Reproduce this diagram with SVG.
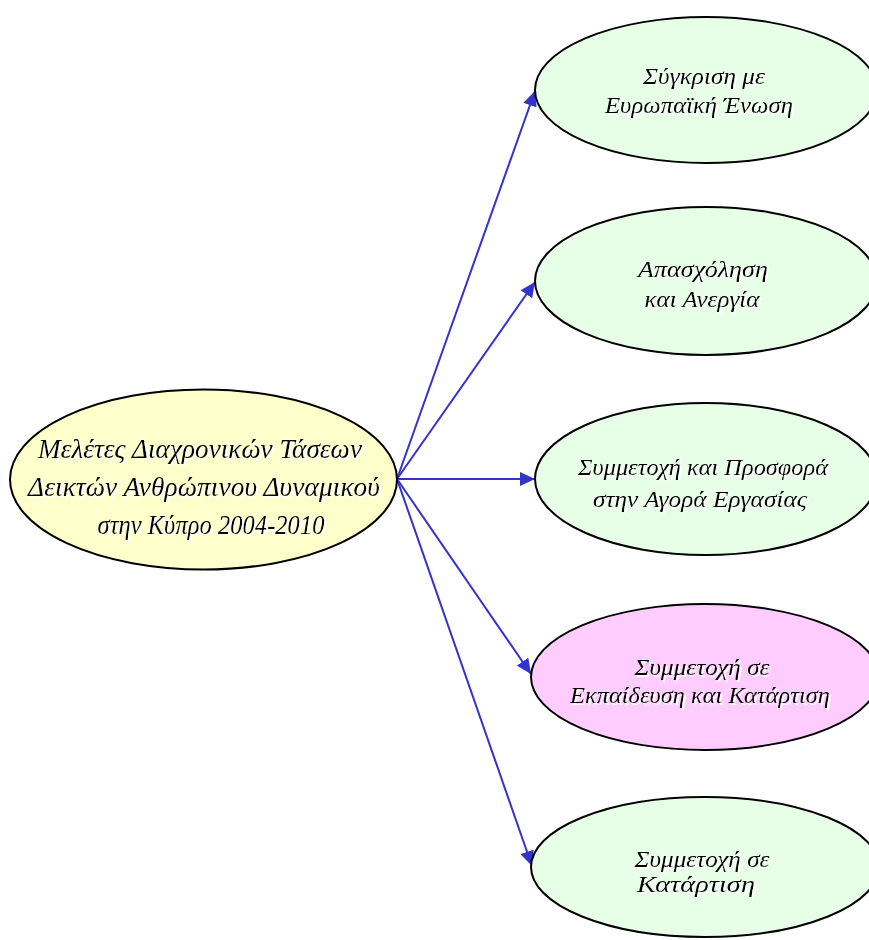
<svg xmlns="http://www.w3.org/2000/svg" width="869" height="940" viewBox="0 0 869 940">
<style>
.node{stroke:#000;stroke-width:2}
.t{font-family:"Liberation Serif","DejaVu Serif",serif;font-style:italic;text-anchor:middle;fill:#000;filter:url(#wsh)}
.big{font-size:28px}
.sm{font-size:23px}
.edge{stroke:#3333cc;stroke-width:2;fill:none}
</style>
<defs>
<marker id="arr" markerUnits="userSpaceOnUse" markerWidth="16" markerHeight="14" refX="15" refY="7" orient="auto">
<path d="M0,0 L15,7 L0,14 z" fill="#3333cc"/>
</marker>
<filter id="wsh" x="-10%" y="-30%" width="120%" height="160%">
<feFlood flood-color="#fff" result="w"/>
<feComposite in="w" in2="SourceAlpha" operator="in" result="ws"/>
<feOffset in="ws" dx="2" dy="2" result="off"/>
<feMerge><feMergeNode in="off"/><feMergeNode in="SourceGraphic"/></feMerge>
</filter>
</defs>
<rect width="869" height="940" fill="#fff"/>
<g id="connectors">
<line class="edge" x1="397" y1="479" x2="535" y2="91" marker-end="url(#arr)"/>
<line class="edge" x1="397" y1="479" x2="535" y2="282" marker-end="url(#arr)"/>
<line class="edge" x1="397" y1="479" x2="535" y2="479" marker-end="url(#arr)"/>
<line class="edge" x1="397" y1="479" x2="531" y2="674" marker-end="url(#arr)"/>
<line class="edge" x1="397" y1="479" x2="532" y2="866" marker-end="url(#arr)"/>
</g>
<g id="center">
<ellipse class="node" cx="203.5" cy="479.5" rx="193.5" ry="90" fill="#ffffcc"/>
<text class="t big" x="200" y="458" textLength="324" lengthAdjust="spacingAndGlyphs">Μελέτες Διαχρονικών Τάσεων</text>
<text class="t big" x="204" y="496" textLength="352" lengthAdjust="spacingAndGlyphs">Δεικτών Ανθρώπινου Δυναμικού</text>
<text class="t big" x="211" y="534" textLength="227" lengthAdjust="spacingAndGlyphs">στην Κύπρο 2004-2010</text>
</g>
<g id="n1">
<ellipse class="node" cx="706" cy="90" rx="171" ry="73" fill="#e6ffe6"/>
<text class="t sm" x="704" y="84" textLength="122" lengthAdjust="spacingAndGlyphs">Σύγκριση με</text>
<text class="t sm" x="699" y="113" textLength="188" lengthAdjust="spacingAndGlyphs">Ευρωπαϊκή Ένωση</text>
</g>
<g id="n2">
<ellipse class="node" cx="706" cy="281" rx="171" ry="74" fill="#e6ffe6"/>
<text class="t sm" x="703" y="277" textLength="130" lengthAdjust="spacingAndGlyphs">Απασχόληση</text>
<text class="t sm" x="702" y="307" textLength="115" lengthAdjust="spacingAndGlyphs">και Ανεργία</text>
</g>
<g id="n3">
<ellipse class="node" cx="706" cy="479" rx="171" ry="76" fill="#e6ffe6"/>
<text class="t sm" x="703" y="475" textLength="250" lengthAdjust="spacingAndGlyphs">Συμμετοχή και Προσφορά</text>
<text class="t sm" x="700" y="507" textLength="214" lengthAdjust="spacingAndGlyphs">στην Αγορά Εργασίας</text>
</g>
<g id="n4">
<ellipse class="node" cx="705" cy="677" rx="174" ry="73" fill="#ffccff"/>
<text class="t sm" x="702" y="675" textLength="135" lengthAdjust="spacingAndGlyphs">Συμμετοχή σε</text>
<text class="t sm" x="700" y="703" textLength="260" lengthAdjust="spacingAndGlyphs">Εκπαίδευση και Κατάρτιση</text>
</g>
<g id="n5">
<ellipse class="node" cx="705" cy="867" rx="174" ry="70" fill="#e6ffe6"/>
<text class="t sm" x="702" y="867" textLength="135" lengthAdjust="spacingAndGlyphs">Συμμετοχή σε</text>
<text class="t sm" x="696" y="892" textLength="118" lengthAdjust="spacingAndGlyphs">Κατάρτιση</text>
</g>
</svg>
